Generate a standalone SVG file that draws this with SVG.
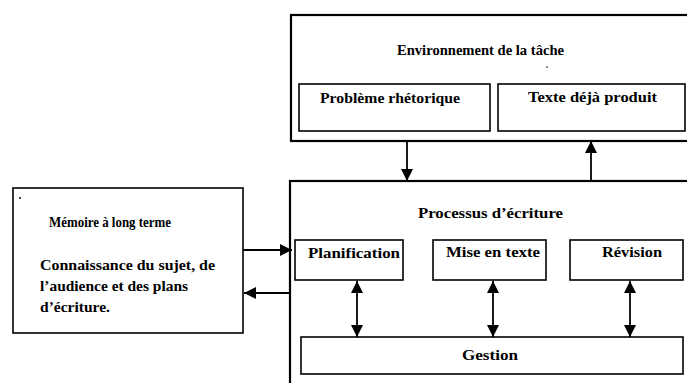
<svg xmlns="http://www.w3.org/2000/svg" width="687" height="383" viewBox="0 0 687 383">
<style>
.box{fill:#fff;stroke:#000;stroke-width:1.6}
.outer{fill:#fff;stroke:#000;stroke-width:2.2}
.t{font-family:"Liberation Serif","DejaVu Serif",serif;font-weight:bold;font-size:14px;fill:#000}
.ln{stroke:#000;stroke-width:1.8;fill:none}
</style>
<defs>
<marker id="ah" viewBox="0 0 12 12" refX="12" refY="6" markerWidth="12" markerHeight="12" markerUnits="userSpaceOnUse" orient="auto-start-reverse">
<path d="M0,0 L12,6 L0,12 Z" fill="#000"/>
</marker>
</defs>
<rect width="687" height="383" fill="#fff"/>
<g id="environnement">
<rect class="outer" x="291" y="15" width="410" height="126"/>
<text class="t" x="397" y="55" textLength="167" lengthAdjust="spacingAndGlyphs">Environnement de la tâche</text>
<circle cx="547" cy="67" r="0.8" fill="#000"/>
</g>
<g id="probleme">
<rect class="box" x="299" y="84" width="191" height="47"/>
<text class="t" x="320" y="103" textLength="140" lengthAdjust="spacingAndGlyphs">Problème rhétorique</text>
</g>
<g id="texte">
<rect class="box" x="498" y="84" width="187" height="47"/>
<text class="t" x="528" y="102" textLength="129" lengthAdjust="spacingAndGlyphs">Texte déjà produit</text>
</g>
<g id="processus">
<rect class="outer" x="290" y="181" width="410" height="215"/>
<text class="t" x="418" y="218" textLength="145" lengthAdjust="spacingAndGlyphs">Processus d’écriture</text>
</g>
<g id="planification">
<rect class="box" x="295" y="240" width="108" height="40"/>
<text class="t" x="308" y="258" textLength="92" lengthAdjust="spacingAndGlyphs">Planification</text>
</g>
<g id="mise">
<rect class="box" x="433" y="240" width="113" height="40"/>
<text class="t" x="446" y="257" textLength="94" lengthAdjust="spacingAndGlyphs">Mise en texte</text>
</g>
<g id="revision">
<rect class="box" x="570" y="240" width="113" height="40"/>
<text class="t" x="602" y="257" textLength="60" lengthAdjust="spacingAndGlyphs">Révision</text>
</g>
<g id="gestion">
<rect class="box" x="301" y="337" width="382" height="37"/>
<text class="t" x="462" y="360" textLength="56" lengthAdjust="spacingAndGlyphs">Gestion</text>
</g>
<g id="memoire">
<rect class="box" x="13" y="188" width="230" height="145"/>
<circle cx="20" cy="198" r="1" fill="#000"/>
<text class="t" x="49" y="227" textLength="122" lengthAdjust="spacingAndGlyphs">Mémoire à long terme</text>
<text class="t" x="40" y="270" textLength="175" lengthAdjust="spacingAndGlyphs">Connaissance du sujet, de</text>
<text class="t" x="40" y="291" textLength="148" lengthAdjust="spacingAndGlyphs">l’audience et des plans</text>
<text class="t" x="40" y="312" textLength="70" lengthAdjust="spacingAndGlyphs">d’écriture.</text>
</g>
<g id="connectors">
<line class="ln" x1="407" y1="141" x2="407" y2="181" marker-end="url(#ah)"/>
<line class="ln" x1="591" y1="181" x2="591" y2="141" marker-end="url(#ah)"/>
<line class="ln" x1="243" y1="250" x2="292" y2="250" marker-end="url(#ah)"/>
<line class="ln" x1="290" y1="293" x2="244" y2="293" marker-end="url(#ah)"/>
<line class="ln" x1="357" y1="281" x2="357" y2="337" marker-start="url(#ah)" marker-end="url(#ah)"/>
<line class="ln" x1="493" y1="281" x2="493" y2="337" marker-start="url(#ah)" marker-end="url(#ah)"/>
<line class="ln" x1="630" y1="281" x2="630" y2="337" marker-start="url(#ah)" marker-end="url(#ah)"/>
</g>
</svg>
